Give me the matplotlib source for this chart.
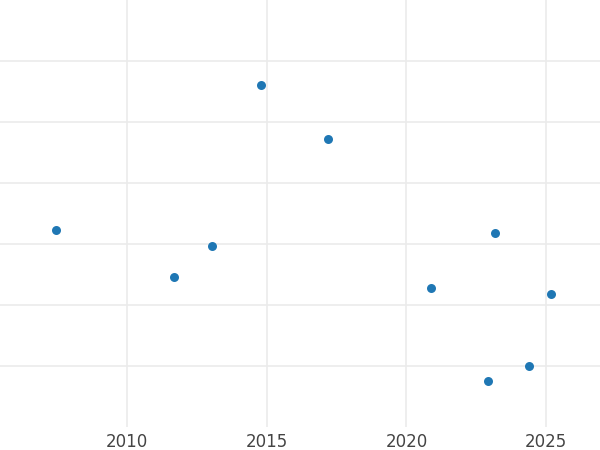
import matplotlib
matplotlib.use('Agg')
import matplotlib.pyplot as plt

# Data (y in arbitrary grid units)
years = [2007.45, 2011.68, 2013.04, 2014.80, 2017.19, 2020.88, 2023.17, 2022.92, 2024.39, 2025.18]
values = [3.23, 2.46, 2.97, 5.61, 4.72, 2.28, 3.18, 0.75, 1.00, 2.18]
x_ticks = [2010, 2015, 2020, 2025]
y_ticks = [1, 2, 3, 4, 5, 6]

fig = plt.figure(figsize=(6, 4.5), dpi=100)
ax = fig.add_axes([0, 0.051, 1, 0.949])

ax.scatter(years, values, s=42, color='#1f77b4', zorder=3, linewidths=0)

ax.set_xlim(2005.45, 2026.93)
ax.set_ylim(0, 7)
ax.set_xticks(x_ticks)
ax.set_xticklabels([str(t) for t in x_ticks])
ax.set_yticks(y_ticks)
ax.set_yticklabels([])

ax.grid(True, color='#ebebeb', linewidth=1.2)
ax.set_axisbelow(True)
for side in ax.spines.values():
    side.set_visible(False)
ax.tick_params(axis='both', length=0)
ax.tick_params(axis='x', labelsize=12, labelcolor='#444444', pad=4)

fig.savefig('out.png', dpi=100)
